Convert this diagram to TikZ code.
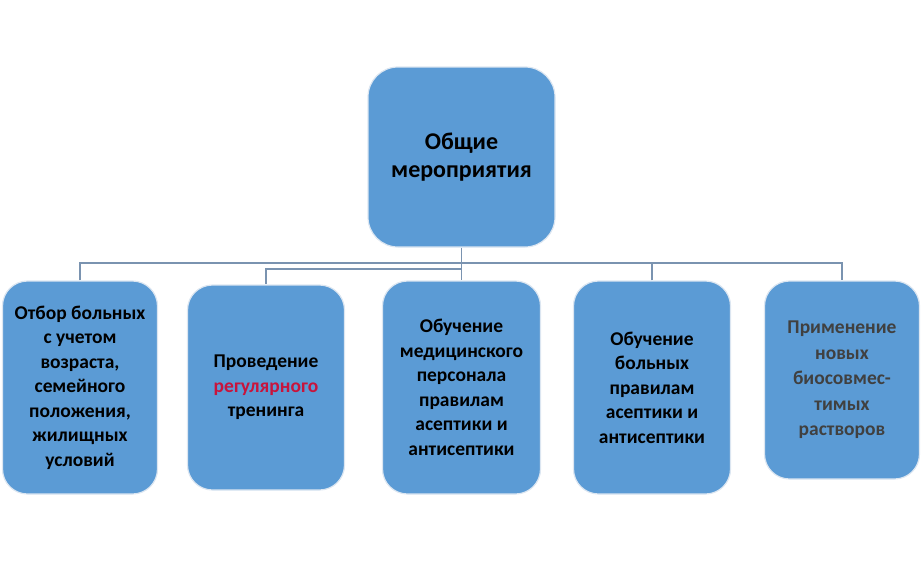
\documentclass[tikz,border=0pt]{standalone}
\usepackage{fontspec}
\setmainfont{Carlito}
\usetikzlibrary{positioning}

\definecolor{boxblue}{HTML}{5B9BD5}
\definecolor{boxrim}{HTML}{DCE6F1}
\definecolor{linkgray}{HTML}{7A93B0}
\definecolor{accentred}{HTML}{C8143C}
\definecolor{softtext}{HTML}{404040}

\tikzset{
  box/.style={draw=boxrim,line width=1.2pt,fill=boxblue,rounded corners=25pt,
    align=center,inner sep=3pt,font=\bfseries\fontsize{19.5}{24.5}\selectfont},
  link/.style={draw=linkgray,line width=1.2pt}
}

\begin{document}
\begin{tikzpicture}[x=1pt,y=-1pt,node distance=190pt,on grid]
    \useasboundingbox (0,0) rectangle (923,563);

    \node[box,minimum width=187pt,minimum height=180pt,rounded corners=30pt,
          font=\bfseries\fontsize{24}{28}\selectfont]
                        (top) at (461.5,157)    {Общие\\мероприятия};
    \node[box,minimum width=158pt,minimum height=213pt]
                        (b3)  [below=230.5pt of top] {Обучение\\медицинского\\персонала\\правилам\\асептики и\\антисептики};
    \node[box,minimum width=157pt,minimum height=205pt]
                        (b2)  [left=195.5pt of b3]   {Проведение\\\textcolor{accentred}{регулярного}\\тренинга};
    \node[box,minimum width=155pt,minimum height=213pt]
                        (b1)  [left=186pt of b2]     {Отбор больных\\с учетом\\возраста,\\семейного\\положения,\\жилищных\\условий};
    \node[box,minimum width=157pt,minimum height=213pt]
                        (b4)  [right=190.5pt of b3]  {Обучение\\больных\\правилам\\асептики и\\антисептики};
    \node[box,minimum width=155pt,minimum height=198pt,text=softtext,yshift=7.5pt,
          font=\bfseries\fontsize{19.5}{25.5}\selectfont]
                        (b5)  [right=of b4]          {Применение\\новых\\биосовмес-\\тимых\\растворов};

    \coordinate (bus)  at (0,263);
    \coordinate (bus2) at (0,269);

    \draw[link] (top.south) -- (b3.north);
    \draw[link] (b1.north) -- (b1.north |- bus) -- (b5.north |- bus) -- (b5.north);
    \draw[link] (b4.north) -- (b4.north |- bus);
    \draw[link] (top.south |- bus2) -- (b2.north |- bus2) -- (b2.north);
\end{tikzpicture}
\end{document}
